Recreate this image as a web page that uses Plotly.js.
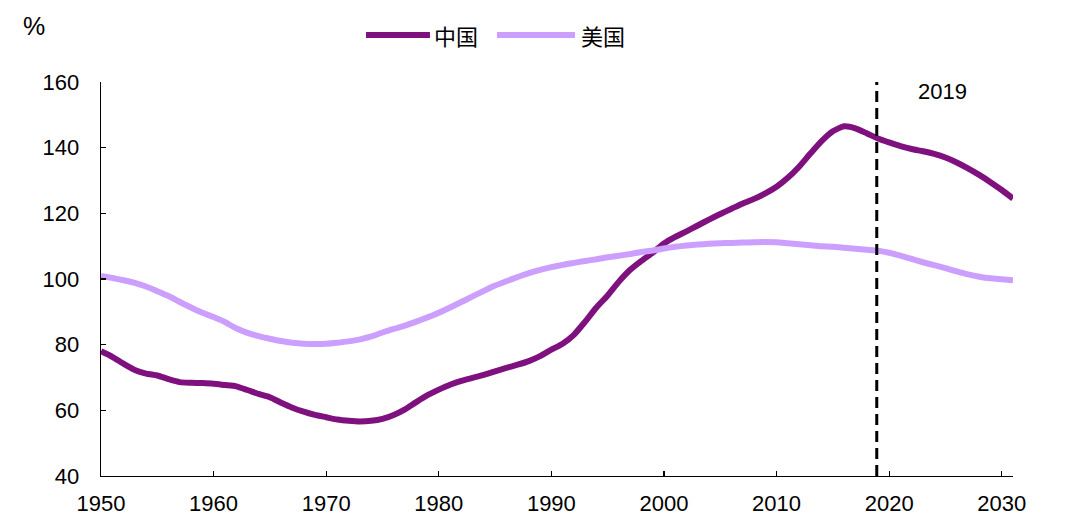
<!DOCTYPE html>
<html>
<head>
<meta charset="utf-8">
<script src="https://cdn.plot.ly/plotly-3.0.1.min.js"></script>
<style>html,body{margin:0;padding:0;background:#fff;}#chart{width:1080px;height:526px;}</style>
</head>
<body>
<div id="chart"></div>
<script>
const years = [];
for (let y = 1950; y <= 2031; y++) years.push(y);

const chinaName = "中国";
const usName = "美国";
const chinaColor = "#7f117f";
const usColor = "#cc9fff";

const china = [
  78.0, 76.3, 74.2, 72.3, 71.2, 70.6, 69.5, 68.6, 68.4, 68.3,
  68.1, 67.7, 67.3, 66.2, 65.0, 64.0, 62.3, 60.8, 59.6, 58.6,
  57.9, 57.2, 56.8, 56.6, 56.8, 57.4, 58.6, 60.3, 62.5, 64.6,
  66.3, 67.8, 69.0, 69.9, 70.8, 71.9, 72.9, 73.9, 75.0, 76.5,
  78.5, 80.3, 83.0, 87.0, 91.3, 95.0, 99.2, 102.8, 105.5, 108.0,
  110.8, 112.8, 114.5, 116.3, 118.1, 119.8, 121.4, 123.0, 124.4, 126.1,
  128.1, 130.8, 134.2, 138.2, 142.0, 145.0, 146.5, 145.9, 144.4, 142.8,
  141.6, 140.5, 139.6, 138.9, 138.1, 137.0, 135.5, 133.7, 131.7, 129.5,
  127.1, 124.5
];

const us = [
  100.9, 100.3, 99.6, 98.8, 97.7, 96.3, 94.8, 93.0, 91.3, 89.7,
  88.4, 86.9, 85.0, 83.6, 82.6, 81.8, 81.1, 80.6, 80.3, 80.2,
  80.3, 80.6, 81.0, 81.6, 82.5, 83.7, 84.8, 85.8, 87.0, 88.3,
  89.7, 91.3, 93.0, 94.7, 96.4, 98.0, 99.3, 100.6, 101.8, 102.8,
  103.6, 104.3, 104.9, 105.5, 106.0, 106.6, 107.1, 107.6, 108.2, 108.7,
  109.3, 109.8, 110.2, 110.5, 110.7, 110.9, 111.0, 111.1, 111.2, 111.3,
  111.2, 110.9, 110.6, 110.3, 110.0, 109.8, 109.5, 109.2, 108.9, 108.6,
  108.0, 107.1, 106.1, 105.1, 104.2, 103.3, 102.3, 101.4, 100.7, 100.2,
  99.9, 99.6
];

const xTicks = [1950, 1960, 1970, 1980, 1990, 2000, 2010, 2020, 2030];
const yTicks = [40, 60, 80, 100, 120, 140, 160];
const markerYear = 2018.9;
const markerLabel = "2019";
const unitLabel = "%";

const font = "Arial, 'Liberation Sans', sans-serif";
const cjk = "'Noto Sans CJK SC', sans-serif";

const traces = [
  {x: years, y: china, name: chinaName, type: "scatter", mode: "lines",
   line: {color: chinaColor, width: 6, shape: "spline", smoothing: 0.6}},
  {x: years, y: us, name: usName, type: "scatter", mode: "lines",
   line: {color: usColor, width: 6, shape: "spline", smoothing: 0.6}}
];

const legY = 1.1193;
const layout = {
  width: 1080, height: 526,
  margin: {l: 101, r: 67, t: 82, b: 50},
  paper_bgcolor: "#fff", plot_bgcolor: "#fff",
  font: {family: font, size: 22, color: "#000"},
  showlegend: false,
  xaxis: {range: [1950, 2031], tickvals: xTicks, ticktext: xTicks.map(String),
          showgrid: false, zeroline: false, showline: true, linecolor: "#000", linewidth: 1.3,
          ticks: "inside", ticklen: 5, tickcolor: "#000", tickwidth: 1.3,
          ticklabelstandoff: 7, tickfont: {family: font, size: 22, color: "#000"}},
  yaxis: {range: [40, 160], tickvals: yTicks, ticktext: yTicks.map(String),
          showgrid: false, zeroline: false, showline: true, linecolor: "#000", linewidth: 1.3,
          ticks: "inside", ticklen: 5, tickcolor: "#000", tickwidth: 1.3,
          ticklabelstandoff: 16, tickfont: {family: font, size: 22, color: "#000"}},
  shapes: [
    {type: "line", xref: "x", yref: "paper", x0: markerYear, x1: markerYear, y0: 0, y1: 1,
     line: {color: "#000", width: 3, dash: "11px,6px"}},
    {type: "line", xref: "paper", yref: "paper", x0: 0.2906, x1: 0.3607, y0: legY, y1: legY,
     line: {color: chinaColor, width: 6}},
    {type: "line", xref: "paper", yref: "paper", x0: 0.4342, x1: 0.5197, y0: legY, y1: legY,
     line: {color: usColor, width: 6}}
  ],
  annotations: [
    {text: chinaName, xref: "paper", yref: "paper", x: 0.363, y: legY, xanchor: "left", yanchor: "middle",
     showarrow: false, font: {family: cjk, size: 22, color: "#000"}},
    {text: usName, xref: "paper", yref: "paper", x: 0.5245, y: legY, xanchor: "left", yanchor: "middle",
     showarrow: false, font: {family: cjk, size: 22, color: "#000"}},
    {text: markerLabel, xref: "x", yref: "y", x: 2024.7, y: 157, xanchor: "center", yanchor: "middle",
     showarrow: false, font: {family: font, size: 22, color: "#000"}},
    {text: unitLabel, xref: "paper", yref: "paper", x: -0.0735, y: 1.142, xanchor: "center", yanchor: "middle",
     showarrow: false, font: {family: font, size: 25, color: "#000"}}
  ]
};

Plotly.newPlot("chart", traces, layout, {displayModeBar: false, staticPlot: true});
</script>
</body>
</html>
